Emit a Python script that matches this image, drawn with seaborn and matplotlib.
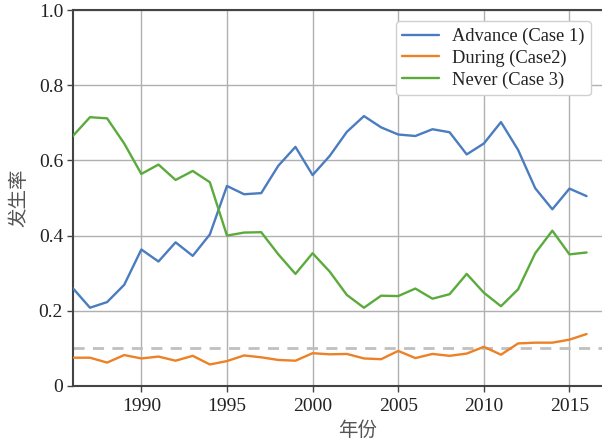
import numpy as np
import pandas as pd
import matplotlib
matplotlib.use("Agg")
import matplotlib.pyplot as plt
import seaborn as sns

years = list(range(1986, 2017))
advance = [0.260, 0.208, 0.223, 0.269, 0.363, 0.331, 0.382, 0.346, 0.403, 0.532,
           0.510, 0.513, 0.586, 0.636, 0.561, 0.612, 0.676, 0.718, 0.688, 0.669,
           0.665, 0.683, 0.675, 0.616, 0.645, 0.702, 0.628, 0.526, 0.470, 0.525, 0.505]
during = [0.075, 0.075, 0.062, 0.082, 0.073, 0.078, 0.067, 0.080, 0.057, 0.066,
          0.081, 0.076, 0.069, 0.067, 0.087, 0.084, 0.085, 0.073, 0.071, 0.093,
          0.074, 0.085, 0.080, 0.086, 0.104, 0.083, 0.113, 0.115, 0.115, 0.123, 0.138]
never = [0.665, 0.715, 0.712, 0.645, 0.564, 0.589, 0.548, 0.572, 0.542, 0.400,
         0.408, 0.409, 0.350, 0.298, 0.353, 0.304, 0.242, 0.208, 0.240, 0.239,
         0.259, 0.232, 0.244, 0.298, 0.248, 0.212, 0.257, 0.353, 0.413, 0.350, 0.355]
series_names = ["Advance (Case 1)", "During (Case2)", "Never (Case 3)"]
threshold = 0.1
yticks = [0, 0.2, 0.4, 0.6, 0.8, 1.0]
ytick_labels = ["0", "0.2", "0.4", "0.6", "0.8", "1.0"]
xticks = [1990, 1995, 2000, 2005, 2010, 2015]

df = pd.DataFrame({
    "year": years * 3,
    "rate": advance + during + never,
    "case": [series_names[0]] * len(years) + [series_names[1]] * len(years) + [series_names[2]] * len(years),
})

sns.set_theme(style="whitegrid")
plt.rcParams["font.family"] = ["Liberation Serif", "Noto Sans CJK SC"]

fig = plt.figure(figsize=(6.02, 4.40), dpi=100)
ax = fig.add_axes([0.121, 0.123, 0.879, 0.854])

palette = ["#4a7cbf", "#ec8125", "#5aab3b"]
ax.axhline(threshold, color="#c0c0c0", lw=2, ls=(0, (4, 3)), zorder=1)
sns.lineplot(data=df, x="year", y="rate", hue="case", palette=palette,
             linewidth=1.7, ax=ax, zorder=3)

ax.set_xlim(1986, 2016.9)
ax.set_ylim(0, 1.0)
ax.set_xticks(xticks)
ax.set_xticklabels([str(x) for x in xticks], fontsize=14)
ax.set_yticks(yticks)
ax.set_yticklabels(ytick_labels, fontsize=14)
ax.grid(True, color="#b0b0b0", lw=1.0)
for s in ["left", "bottom", "top"]:
    ax.spines[s].set_visible(True)
    ax.spines[s].set_color("#444444")
    ax.spines[s].set_linewidth(1.5)
ax.spines["right"].set_visible(False)
ax.tick_params(axis="x", direction="out", length=4, width=1, color="#444444",
               bottom=True, labelcolor="#222222", pad=5)
ax.tick_params(axis="y", direction="out", length=4, width=1, color="#444444",
               left=True, labelcolor="#222222", pad=3)

ax.set_xlabel("年份", fontsize=14, family="Noto Sans CJK SC", color="#555555")
ax.xaxis.set_label_coords(0.539, -0.092)
ax.set_ylabel("发生率", fontsize=14, family="Noto Sans CJK SC", color="#555555", labelpad=7)

leg = ax.legend(loc="upper right", bbox_to_anchor=(0.99, 0.985), fontsize=13.3,
                frameon=True, handlelength=2.0, borderaxespad=0.3, labelspacing=0.25,
                borderpad=0.35, handletextpad=0.7)
leg.get_frame().set_edgecolor("#d0d0d0")
leg.get_frame().set_facecolor("white")
leg.get_frame().set_alpha(1)
for t in leg.get_texts():
    t.set_color("#222222")

fig.savefig("out.png", dpi=100)
